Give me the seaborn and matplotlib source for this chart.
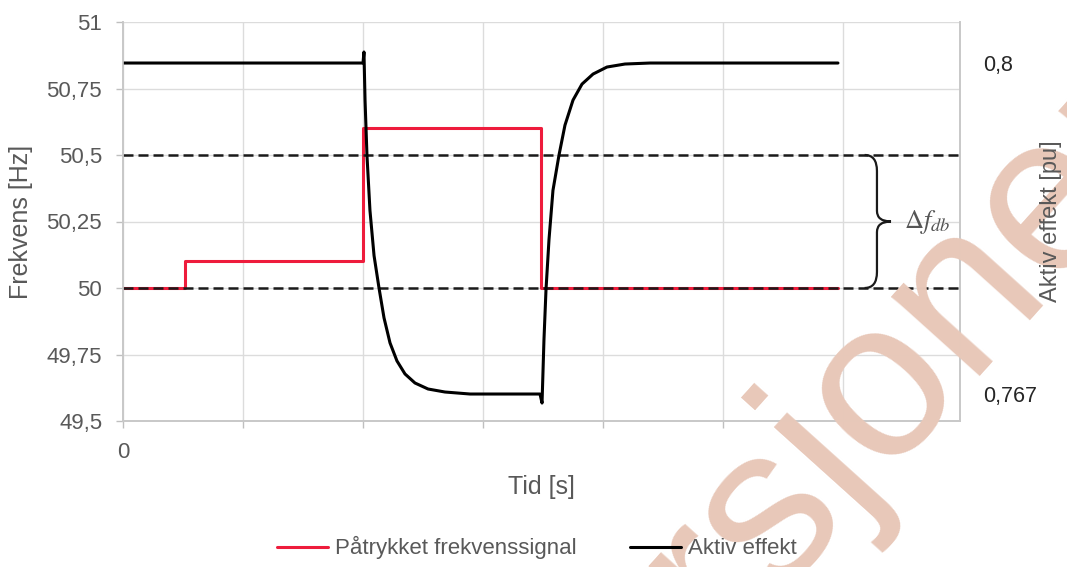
import matplotlib
matplotlib.use("Agg")
import matplotlib.pyplot as plt
import seaborn as sns
import pandas as pd
from matplotlib.path import Path
from matplotlib.patches import PathPatch
from matplotlib.ticker import FuncFormatter

# Applied frequency signal (step changes), Hz
signal_t = [0.0, 0.52, 2.0, 3.48, 5.96]
signal_f = [50.0, 50.1, 50.6, 50.0, 50.0]

# Active power response, pu
power_t = [0.0, 2.0, 2.008, 2.017, 2.033, 2.058, 2.092, 2.133, 2.175, 2.225,
           2.283, 2.35, 2.433, 2.542, 2.683, 2.892, 3.475, 3.492, 3.508,
           3.525, 3.55, 3.583, 3.633, 3.683, 3.75, 3.825, 3.917, 4.033,
           4.183, 4.392, 5.958]
power_p = [0.8, 0.8, 0.8011, 0.7963, 0.7908, 0.7853, 0.7808, 0.7776, 0.7746,
           0.7721, 0.7703, 0.769, 0.7681, 0.7675, 0.7672, 0.767, 0.767,
           0.7661, 0.7724, 0.7774, 0.7824, 0.7873, 0.7908, 0.7938, 0.7963,
           0.7979, 0.7989, 0.7996, 0.7999, 0.8, 0.8]

# Dead band limits
band_limits = [50.0, 50.5]

freq_ticks = [49.5, 49.75, 50.0, 50.25, 50.5, 50.75, 51.0]
power_ticks = [0.767, 0.8]
power_labels = ["0,767", "0,8"]
time_ticks = [0, 1, 2, 3, 4, 5, 6]
time_labels = ["0", "", "", "", "", "", ""]

sns.set_theme(style="white")
plt.rcParams["font.family"] = ["Liberation Sans", "DejaVu Sans"]
plt.rcParams["mathtext.fontset"] = "stix"

grey_txt = "#595959"
grid_c = "#dcdcdc"
red = "#ee1c3c"

fig = plt.figure(figsize=(10.67, 5.67), dpi=100)
ax = fig.add_axes([123 / 1067, 1 - 421 / 567, 837 / 1067, 399 / 567])
ax2 = ax.twinx()

sig_df = pd.DataFrame({"t": signal_t, "f": signal_f})
pow_df = pd.DataFrame({"t": power_t, "p": power_p})

sns.lineplot(data=sig_df, x="t", y="f", ax=ax, color=red, lw=2.2,
             drawstyle="steps-post", estimator=None, sort=False,
             legend=False, zorder=2)
for lim in band_limits:
    ax.axhline(lim, color="#1a1a1a", lw=1.8, ls=(0, (4, 2)), zorder=3)

sns.lineplot(data=pow_df, x="t", y="p", ax=ax2, color="black", lw=2.2,
             estimator=None, sort=False, legend=False)

# Axes ranges and ticks
ax.set_xlim(0, 6.975)
ax.set_ylim(49.5, 51.0)
ax.set_yticks(freq_ticks)
ax.yaxis.set_major_formatter(FuncFormatter(
    lambda v, _: ("%g" % v).replace(".", ",")))
ax.set_xticks(time_ticks)
ax.set_xticklabels(time_labels)
ax.grid(True, color=grid_c, lw=1)
ax.tick_params(axis="both", colors="#bfbfbf", labelcolor=grey_txt,
               labelsize=16, length=5, width=1, pad=10, direction="out")
ax.tick_params(axis="y", left=True)
ax.tick_params(axis="x", bottom=True)

ax2.set_ylim(0.76431, 0.80409)
ax2.set_yticks(power_ticks)
ax2.set_yticklabels(power_labels)
ax2.tick_params(axis="y", length=0, pad=17, labelsize=15.5, labelcolor="#262626")
ax2.grid(False)

for a in (ax, ax2):
    for side in ("left", "bottom", "right"):
        a.spines[side].set_color("#c8c8c8")
        a.spines[side].set_linewidth(1.2)
    a.spines["top"].set_visible(False)

ax.set_xlabel("Tid [s]", fontsize=18, color=grey_txt)
ax.xaxis.set_label_coords(0.5, -0.135)
ax.set_ylabel("Frekvens [Hz]", fontsize=18, color=grey_txt)
ax.yaxis.set_label_coords(-0.108, 0.5)
ax2.set_ylabel("Aktiv effekt [pu]", fontsize=17, color=grey_txt, rotation=90)
ax2.yaxis.set_label_coords(1.095, 0.5)
ax2.yaxis.set_zorder(5)

# Curly brace marking the dead band
x0, xs, xt = 6.18, 6.283, 6.40
ylo, yhi = band_limits
ym = (ylo + yhi) / 2
verts = [(x0, yhi), (xs, yhi), (xs, yhi - 0.06),
         (xs, ym + 0.04), (xs, ym), (xt, ym),
         (xs, ym), (xs, ym - 0.04),
         (xs, ylo + 0.06), (xs, ylo), (x0, ylo)]
codes = [Path.MOVETO, Path.CURVE3, Path.CURVE3,
         Path.LINETO, Path.CURVE3, Path.CURVE3,
         Path.CURVE3, Path.CURVE3,
         Path.LINETO, Path.CURVE3, Path.CURVE3]
ax.add_patch(PathPatch(Path(verts, codes), fill=False, lw=1.6,
                       edgecolor="#1a1a1a", zorder=4))
ax.text(6.51, ym, r"$\Delta f_{db}$", fontsize=19, color="#555555",
        ha="left", va="center", zorder=4)

# Legend below the plot
handles = [plt.Line2D([], [], color=red, lw=2.2),
           plt.Line2D([], [], color="black", lw=2.2)]
leg = fig.legend(handles, ["Påtrykket frekvenssignal", "Aktiv effekt"],
                 loc="center", bbox_to_anchor=(0.503, 0.034), ncol=2,
                 frameon=False, fontsize=16, handlelength=2.3,
                 handletextpad=0.3, columnspacing=2.4, labelcolor=grey_txt)
leg.set_zorder(20)

# Watermark
ax2.text(0.798, 0.240, "versjonen", transform=fig.transFigure, clip_on=False,
         fontsize=162, color="#e8c8b9", rotation=48, ha="center",
         va="center", rotation_mode="anchor", family="Liberation Sans",
         zorder=2.6)

fig.savefig("out.png", dpi=100)
